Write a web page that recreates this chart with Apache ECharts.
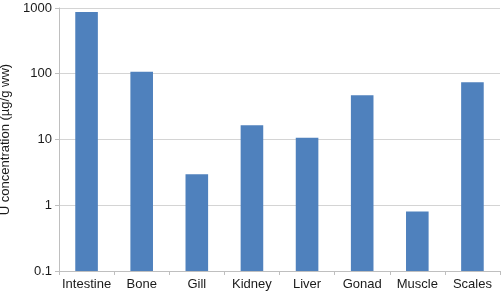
<!DOCTYPE html>
<html>
<head>
<meta charset="utf-8">
<script src="https://cdn.jsdelivr.net/npm/echarts@6/dist/echarts.min.js"></script>
<style>
html, body { margin: 0; padding: 0; background: #fff; }
#chart { width: 502px; height: 293px; }
</style>
</head>
<body>
<div id="chart"></div>
<script>
// tissue categories and U concentration (log scale)
var tissues = ['Intestine', 'Bone', 'Gill', 'Kidney', 'Liver', 'Gonad', 'Muscle', 'Scales'];
var concentration = [870, 107, 2.95, 16.4, 10.6, 47, 0.8, 74];
var yTicks = [0.1, 1, 10, 100, 1000];

var chart = echarts.init(document.getElementById('chart'));
var font = 'Liberation Sans, Arial, sans-serif';

// bars drawn from the axis floor (0.1) up to the value
function renderBar(params, api) {
    var i = api.value(0);
    var top = api.coord([i, api.value(1)]);
    var base = api.coord([i, yTicks[0]]);
    var w = api.size([1, 0])[0] * 0.41;
    return {
        type: 'rect',
        shape: { x: top[0] - w / 2, y: top[1], width: w, height: base[1] - top[1] },
        style: { fill: '#4f81bd' }
    };
}

var option = {
    animation: false,
    grid: {
        left: 59, right: 2, top: 8, bottom: 22,
        containLabel: false,
        outerBoundsMode: 'none'
    },
    xAxis: {
        type: 'category',
        data: tissues,
        axisLine: { lineStyle: { color: '#bfbfbf', width: 1 } },
        axisTick: { show: true, alignWithLabel: false, length: 4, lineStyle: { color: '#bfbfbf' } },
        axisLabel: { color: '#1a1a1a', fontSize: 13, fontFamily: font, margin: 7, interval: 0 },
        splitLine: { show: false }
    },
    yAxis: {
        type: 'log',
        logBase: 10,
        min: yTicks[0],
        max: yTicks[yTicks.length - 1],
        name: 'U concentration (µg/g ww)',
        nameLocation: 'middle',
        nameRotate: 90,
        nameGap: 38,
        nameTextStyle: { color: '#1a1a1a', fontSize: 13, fontFamily: font },
        axisLine: { show: true, lineStyle: { color: '#bfbfbf', width: 1 } },
        axisTick: { show: true, length: 4, lineStyle: { color: '#bfbfbf' } },
        axisLabel: {
            color: '#1a1a1a', fontSize: 13, fontFamily: font, margin: 7,
            formatter: function (v) { return String(v); }
        },
        splitLine: { show: true, lineStyle: { color: '#d4d4d4', width: 1 } }
    },
    series: [{
        type: 'custom',
        renderItem: renderBar,
        encode: { x: 0, y: 1 },
        data: tissues.map(function (t, i) { return [i, concentration[i]]; })
    }]
};

chart.setOption(option);
</script>
</body>
</html>
